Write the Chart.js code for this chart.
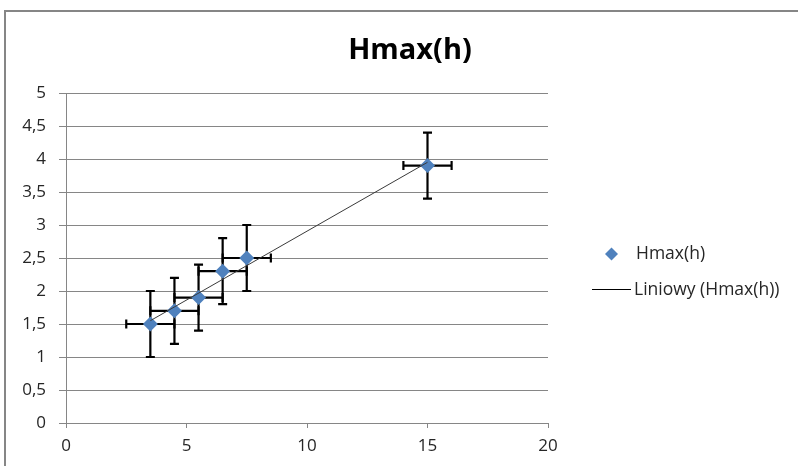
<!DOCTYPE html>
<html><head><meta charset="utf-8">
<script src="https://cdn.jsdelivr.net/npm/chart.js@4.4.0/dist/chart.umd.min.js"></script>
<style>html,body{margin:0;padding:0;background:#fff}canvas{display:block}</style>
</head><body>
<canvas id="c" width="798" height="466"></canvas>
<script>
const xValues = [3.5, 4.5, 5.5, 6.5, 7.5, 15];
const yValues = [1.5, 1.7, 1.9, 2.3, 2.5, 3.9];
const xErrors = [1, 1, 1, 1, 1, 1];
const yErrors = [0.5, 0.5, 0.5, 0.5, 0.5, 0.5];
const trendX = [3.5, 15];
const trendY = [1.55, 3.95];
const xTickLabels = ['0', '5', '10', '15', '20'];
const yTickLabels = ['0', '0,5', '1', '1,5', '2', '2,5', '3', '3,5', '4', '4,5', '5'];
const seriesName = 'Hmax(h)';
const trendName = 'Liniowy (Hmax(h))';
const titleText = 'Hmax(h)';

const FONT = "'Open Sans', 'Noto Sans', sans-serif";
const GRID = '#868686';
const BLUE = '#4F81BD';
const TEXT = '#262626';

const framePlugin = {
  id: 'frame',
  beforeDraw(chart) {
    const ctx = chart.ctx;
    ctx.save();
    ctx.fillStyle = '#fff';
    ctx.fillRect(0, 0, chart.width, chart.height);
    ctx.strokeStyle = GRID;
    ctx.lineWidth = 2;
    ctx.strokeRect(5, 11, 1000, 1000);
    ctx.restore();
  }
};

const errorBarPlugin = {
  id: 'errorBars',
  beforeDatasetsDraw(chart) {
    const ctx = chart.ctx;
    const xs = chart.scales.x, ys = chart.scales.y;
    const cap = 4.5;
    ctx.save();
    ctx.strokeStyle = '#000';
    ctx.lineWidth = 2.2;
    for (let i = 0; i < xValues.length; i++) {
      const px = xs.getPixelForValue(xValues[i]);
      const py = ys.getPixelForValue(yValues[i]);
      const yTop = ys.getPixelForValue(yValues[i] + yErrors[i]);
      const yBot = ys.getPixelForValue(yValues[i] - yErrors[i]);
      const xL = xs.getPixelForValue(xValues[i] - xErrors[i]);
      const xR = xs.getPixelForValue(xValues[i] + xErrors[i]);
      ctx.beginPath();
      ctx.moveTo(px, yTop); ctx.lineTo(px, yBot);
      ctx.moveTo(px - cap, yTop); ctx.lineTo(px + cap, yTop);
      ctx.moveTo(px - cap, yBot); ctx.lineTo(px + cap, yBot);
      ctx.moveTo(xL, py); ctx.lineTo(xR, py);
      ctx.moveTo(xL, py - cap); ctx.lineTo(xL, py + cap);
      ctx.moveTo(xR, py - cap); ctx.lineTo(xR, py + cap);
      ctx.stroke();
    }
    ctx.restore();
  }
};

const legendPlugin = {
  id: 'customLegend',
  afterDraw(chart) {
    const ctx = chart.ctx;
    ctx.save();
    ctx.font = "17.5px " + FONT;
    ctx.textBaseline = 'middle';
    const dx = 611.5, dy = 254, r = 6.5;
    ctx.beginPath();
    ctx.moveTo(dx, dy - r); ctx.lineTo(dx + r, dy); ctx.lineTo(dx, dy + r); ctx.lineTo(dx - r, dy);
    ctx.closePath();
    ctx.fillStyle = BLUE; ctx.fill();
    ctx.fillStyle = TEXT;
    ctx.fillText(seriesName, 636, dy);
    const ly = 290;
    ctx.strokeStyle = '#000'; ctx.lineWidth = 1;
    ctx.beginPath(); ctx.moveTo(592, ly - 0.5); ctx.lineTo(631, ly - 0.5); ctx.stroke();
    ctx.fillText(trendName, 634, ly);
    ctx.restore();
  }
};

new Chart(document.getElementById('c'), {
  type: 'scatter',
  data: {
    datasets: [
      {
        label: trendName,
        type: 'line',
        data: trendX.map((x, i) => ({ x: x, y: trendY[i] })),
        borderColor: '#3a3a3a',
        borderWidth: 1,
        pointRadius: 0,
        showLine: true,
        fill: false,
        order: 0
      },
      {
        label: seriesName,
        data: xValues.map((x, i) => ({ x: x, y: yValues[i] })),
        pointStyle: 'rectRot',
        pointRadius: 7.5,
        pointHoverRadius: 7.5,
        backgroundColor: BLUE,
        borderColor: BLUE,
        borderWidth: 0,
        showLine: false,
        order: 1
      }
    ]
  },
  options: {
    responsive: false,
    devicePixelRatio: 1,
    animation: false,
    layout: { padding: { left: 22, right: 0, top: 0, bottom: 0 } },
    plugins: {
      legend: { display: false },
      tooltip: { enabled: false },
      title: {
        display: true,
        text: titleText,
        color: '#000',
        font: { family: FONT, size: 29, weight: 'bold', lineHeight: 1.2 },
        padding: { top: 33, bottom: 25.2 }
      }
    },
    scales: {
      x: {
        type: 'linear',
        min: 0, max: 20,
        ticks: {
          stepSize: 5,
          color: TEXT,
          font: { family: FONT, size: 17 },
          padding: 8,
          callback: (v, i) => xTickLabels[i]
        },
        grid: { drawOnChartArea: false, color: GRID, tickLength: 5 },
        border: { color: GRID },
        afterFit: (s) => { s.height = 43; }
      },
      y: {
        type: 'linear',
        min: 0, max: 5,
        ticks: {
          stepSize: 0.5,
          color: TEXT,
          font: { family: FONT, size: 17 },
          padding: 13,
          callback: (v, i) => yTickLabels[i]
        },
        grid: { color: GRID, tickLength: 7 },
        border: { color: GRID },
        afterFit: (s) => { s.width = 44; }
      },
      y2: {
        type: 'linear',
        position: 'right',
        min: 0, max: 1,
        display: true,
        ticks: { display: false },
        grid: { display: false },
        border: { display: false },
        afterFit: (s) => { s.width = 250; }
      }
    }
  },
  plugins: [framePlugin, errorBarPlugin, legendPlugin]
});
</script>
</body></html>
